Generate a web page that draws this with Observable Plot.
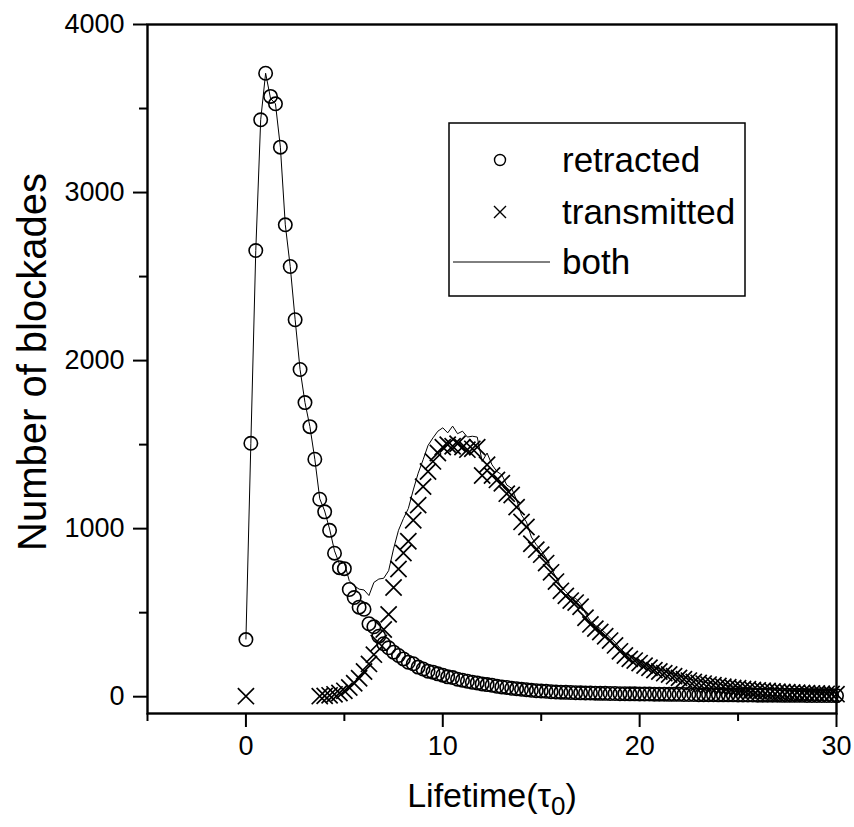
<!DOCTYPE html>
<html>
<head>
<meta charset="utf-8">
<script src="https://cdn.jsdelivr.net/npm/d3@7"></script>
<script src="https://cdn.jsdelivr.net/npm/@observablehq/plot@0.6"></script>
<style>
  html, body { margin: 0; padding: 0; background: #fff; }
  #chart { width: 854px; height: 827px; }
</style>
</head>
<body>
<div id="chart"></div>
<script>
// Bin width of the lifetime histogram (in units of tau_0)
const binWidth = 0.25;

// Retracted events (circles), one value per bin from 0 to 30
const retracted = [
  340, 1508, 2655, 3433,
  3710, 3572, 3528, 3270,
  2808, 2560, 2243, 1947,
  1750, 1607, 1413, 1175,
  1100, 990, 854, 768,
  762, 638, 590, 533,
  520, 434, 416, 360,
  315, 291, 265, 245,
  225, 205, 196, 176,
  165, 152, 146, 136,
  128, 118, 114, 104,
  98, 92, 86, 82,
  76, 72, 68, 62,
  58, 55, 50, 48,
  44, 42, 38, 36,
  34, 32, 30, 28,
  27, 26, 25, 24,
  23, 22, 22, 21,
  20, 20, 19, 19,
  18, 18, 17, 17,
  16, 16, 16, 15,
  15, 15, 14, 14,
  14, 13, 13, 13,
  12, 12, 12, 12,
  11, 11, 11, 11,
  10, 10, 10, 10,
  9, 9, 9, 9,
  9, 8, 8, 8,
  8, 8, 7, 7,
  7, 7, 7, 7,
  6
];

// Transmitted events (crosses); null = no point drawn
const transmitted = [
  3, null, null, null,
  null, null, null, null,
  null, null, null, null,
  null, null, null, 3,
  5, 8, 14, 22,
  35, 55, 80, 110,
  150, 195, 250, 320,
  400, 490, 650, 760,
  855, 925, 1050, 1140,
  1250, 1340, 1400, 1450,
  1485, 1500, 1490, 1505,
  1485, 1470, 1475, 1485,
  1316, 1380, 1316, 1290,
  1270, 1208, 1200, 1128,
  1040, 1010, 910, 875,
  845, 795, 740, 685,
  630, 600, 572, 560,
  535, 470, 430, 405,
  385, 360, 334, 305,
  270, 245, 225, 215,
  200, 185, 172, 158,
  150, 140, 132, 122,
  112, 104, 96, 88,
  82, 78, 72, 68,
  64, 60, 56, 52,
  50, 46, 44, 40,
  38, 36, 34, 32,
  30, 28, 27, 25,
  24, 22, 21, 20,
  19, 18, 17, 16,
  15
];

// Both (thin line)
const both = [
  343, 1508, 2655, 3433,
  3710, 3560, 3528, 3270,
  2808, 2560, 2243, 1947,
  1750, 1607, 1413, 1178,
  1105, 998, 868, 790,
  797, 690, 660, 640,
  635, 602, 680, 700,
  705, 750, 880, 990,
  1060, 1120, 1230, 1330,
  1410, 1495, 1540, 1580,
  1600, 1570, 1610, 1565,
  1580, 1545, 1550, 1545,
  1400, 1450, 1380, 1340,
  1320, 1260, 1240, 1170,
  1080, 1040, 950, 905,
  870, 825, 765, 710,
  655, 625, 595, 585,
  555, 495, 450, 425,
  405, 380, 352, 325,
  288, 262, 242, 232,
  215, 200, 188, 172,
  165, 155, 145, 135,
  126, 118, 108, 100,
  95, 90, 84, 80,
  75, 71, 67, 63,
  60, 56, 54, 50,
  47, 45, 43, 41,
  39, 36, 35, 33,
  32, 30, 28, 27,
  26, 25, 24, 23,
  21
];

const xMajorTicks = [0, 10, 20, 30];
const xMinorTicks = [-5, 5, 15, 25];
const yMajorTicks = [0, 1000, 2000, 3000, 4000];
const yMinorTicks = [500, 1500, 2500, 3500];
const legendLabels = ["retracted", "transmitted", "both"];
const xTitle = "Lifetime(";
const xTitleSymbol = "\u03C4";
const xTitleSub = "0";
const yTitle = "Number of blockades";

const rowsR = retracted.map((v, i) => ({t: i * binWidth, v}));
const rowsT = transmitted.map((v, i) => ({t: i * binWidth, v})).filter(d => d.v !== null);
const rowsB = both.map((v, i) => ({t: i * binWidth, v}));

const font = "'Liberation Sans', Arial, Helvetica, sans-serif";

const chart = Plot.plot({
  width: 854,
  height: 827,
  marginLeft: 147,
  marginRight: 18,
  marginTop: 24,
  marginBottom: 114,
  style: {fontFamily: font, background: "#fff", color: "#000", overflow: "visible"},
  x: {domain: [-5, 30]},
  y: {domain: [-100, 4000]},
  marks: [
    Plot.line(rowsB, {x: "t", y: "v", stroke: "#000", strokeWidth: 1}),
    Plot.dot(rowsR, {x: "t", y: "v", symbol: "circle", r: 6.7, stroke: "#000", fill: "none", strokeWidth: 1.6}),
    Plot.dot(rowsT, {x: "t", y: "v", symbol: "times", r: 7.4, stroke: "#000", strokeWidth: 1.7}),
    Plot.axisX({ticks: xMajorTicks, tickSize: 14, tickPadding: 8, strokeWidth: 2, fontSize: 27, tickFormat: d => String(d), label: null}),
    Plot.axisX({ticks: xMinorTicks, tickSize: 8, strokeWidth: 2, text: null, label: null}),
    Plot.axisY({ticks: yMajorTicks, tickSize: 14, tickPadding: 9, strokeWidth: 2, fontSize: 27, tickFormat: d => String(d), label: null}),
    Plot.axisY({ticks: yMinorTicks, tickSize: 8, strokeWidth: 2, text: null, label: null}),
    Plot.frame({stroke: "#000", strokeWidth: 2.4})
  ]
});

document.getElementById("chart").appendChild(chart);

const svg = d3.select(chart);

// Axis titles
const xt = svg.append("text")
  .attr("x", 492).attr("y", 807)
  .attr("text-anchor", "middle")
  .attr("font-family", font)
  .attr("font-size", 34)
  .attr("fill", "#000");
xt.append("tspan").text(xTitle);
xt.append("tspan").text(xTitleSymbol);
xt.append("tspan").attr("font-size", 26).attr("dy", 8).text(xTitleSub);
xt.append("tspan").attr("dy", -8).text(")");

svg.append("text")
  .attr("transform", "translate(46,362) rotate(-90)")
  .attr("text-anchor", "middle")
  .attr("font-family", font)
  .attr("font-size", 40)
  .attr("fill", "#000")
  .text(yTitle);

// Legend
const lg = svg.append("g");
lg.append("rect")
  .attr("x", 449).attr("y", 123).attr("width", 296).attr("height", 173)
  .attr("fill", "none").attr("stroke", "#000").attr("stroke-width", 1.5);
lg.append("circle").attr("cx", 500).attr("cy", 160).attr("r", 5.5)
  .attr("fill", "none").attr("stroke", "#000").attr("stroke-width", 1.4);
lg.append("path").attr("d", "M494,206L506,218M506,206L494,218")
  .attr("stroke", "#000").attr("stroke-width", 1.4);
lg.append("line").attr("x1", 453).attr("x2", 550).attr("y1", 262).attr("y2", 262)
  .attr("stroke", "#000").attr("stroke-width", 1);
const ys = [160, 212, 262];
legendLabels.forEach((t, i) => {
  lg.append("text").attr("x", 562).attr("y", ys[i])
    .attr("dy", "0.35em")
    .attr("text-anchor", "start")
    .attr("font-family", font).attr("font-size", 35).attr("fill", "#000")
    .text(t);
});
</script>
</body>
</html>
